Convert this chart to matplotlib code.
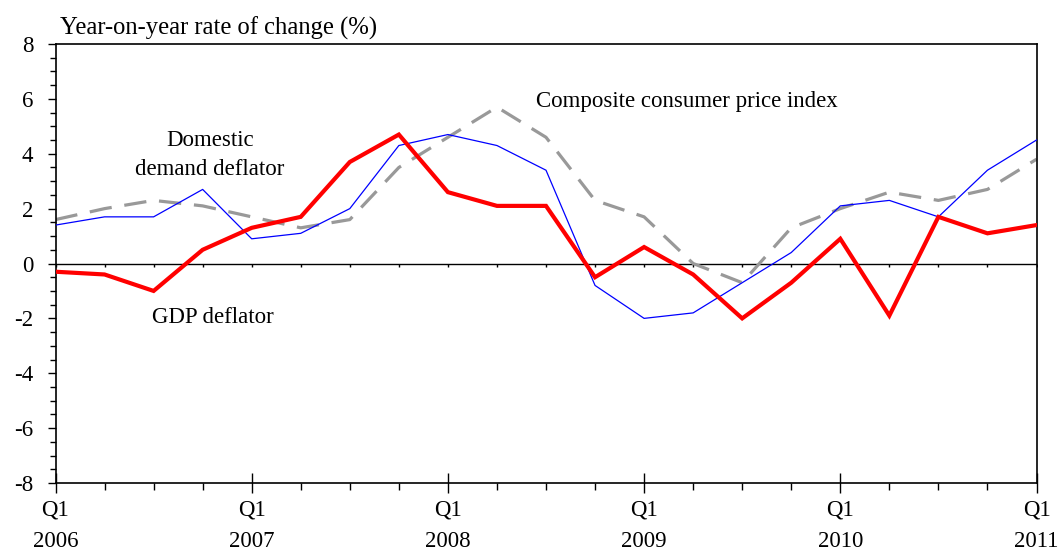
import matplotlib
matplotlib.use("Agg")
import matplotlib.pyplot as plt
from matplotlib.ticker import MultipleLocator
from matplotlib.markers import TICKDOWN

plt.rcParams['font.family'] = ['Liberation Serif', 'DejaVu Serif']
plt.rcParams['axes.unicode_minus'] = False

quarters = list(range(21))  # Q1 2006 .. Q1 2011
year_labels = ["Q1\n2006", "Q1\n2007", "Q1\n2008", "Q1\n2009", "Q1\n2010", "Q1\n2011"]
gdp_deflator = [-0.3, -0.4, -1.0, 0.5, 1.3, 1.7, 3.7, 4.7, 2.6, 2.1, 2.1,
                -0.5, 0.6, -0.4, -2.0, -0.7, 0.9, -1.9, 1.7, 1.1, 1.4]
domestic_demand = [1.4, 1.7, 1.7, 2.7, 0.9, 1.1, 2.0, 4.3, 4.7, 4.3, 3.4,
                   -0.8, -2.0, -1.8, -0.7, 0.4, 2.1, 2.3, 1.7, 3.4, 4.5]
cpi = [1.6, 2.0, 2.3, 2.1, 1.7, 1.3, 1.6, 3.5, 4.6, 5.7, 4.6,
       2.3, 1.7, 0.0, -0.7, 1.3, 2.0, 2.6, 2.3, 2.7, 3.8]

FS_TITLE = 17.7
FS = 16.5
W, H = 1062, 554
fig = plt.figure(figsize=(W / 100, H / 100), dpi=100)
ax = fig.add_axes([55.5 / W, (H - 483) / H, (1036.5 - 55.5) / W, (483 - 44) / H])

ax.axhline(0, color='black', lw=1.0, zorder=1)
ax.plot(quarters, [0] * len(quarters), ls='none', marker=TICKDOWN, ms=2.5,
        mew=1.0, color='black', zorder=1)

ax.plot(quarters, cpi, color='#999999', lw=2.3, dashes=(7, 4), zorder=2)
ax.plot(quarters, domestic_demand, color='#0000ff', lw=0.9, zorder=3)
ax.plot(quarters, gdp_deflator, color='#ff0000', lw=3.0, zorder=4,
        solid_joinstyle='miter')

ax.set_xlim(0, 20)
ax.set_ylim(-8, 8)
ax.set_xticks(quarters[::4])
ax.set_xticklabels(year_labels, linespacing=1.65)
ax.xaxis.set_minor_locator(MultipleLocator(1))
ax.yaxis.set_major_locator(MultipleLocator(2))
ax.yaxis.set_minor_locator(MultipleLocator(0.5))

ax.tick_params(axis='x', which='major', direction='inout', length=14, width=1,
               labelsize=FS, pad=5)
ax.tick_params(axis='x', which='minor', direction='out', length=5, width=1)
ax.tick_params(axis='y', which='major', direction='out', length=6, width=1,
               labelsize=FS, pad=10)
ax.tick_params(axis='y', which='minor', direction='out', length=4, width=1)
for s in ax.spines.values():
    s.set_linewidth(1.2)

fig.text(60 / W, 1 - 28 / H, "Year-on-year rate of change (%)", fontsize=FS_TITLE,
         va='center', ha='left')
ax.text(3.15, 3.97, "Domestic\ndemand deflator", fontsize=FS, ha='center',
        va='center', linespacing=1.5)
ax.text(3.2, -1.97, "GDP deflator", fontsize=FS, ha='center', va='center')
ax.text(9.8, 5.9, "Composite consumer price index", fontsize=FS, ha='left',
        va='center')

fig.savefig("out.png", dpi=100)
